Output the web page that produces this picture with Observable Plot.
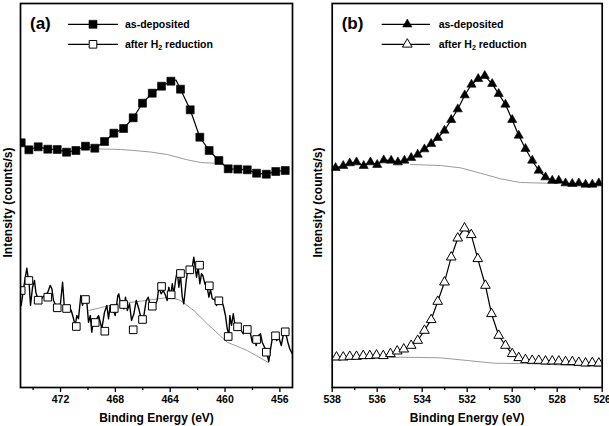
<!DOCTYPE html>
<html><head><meta charset="utf-8">
<script src="https://cdn.jsdelivr.net/npm/d3@7"></script>
<script src="https://cdn.jsdelivr.net/npm/@observablehq/plot@0.6"></script>
<style>
body{margin:0;background:#fff;}
#wrap{position:relative;width:609px;height:426px;overflow:hidden;}
#wrap svg{position:absolute;top:0;}
</style></head><body><div id="wrap"></div>
<script>
const FONT = "'Liberation Sans', Arial, Helvetica, sans-serif";
const xTitle = "Binding Energy (eV)";
const yTitle = "Intensity (counts/s)";
const seriesNames = ["as-deposited", "after H2 reduction"];

// ---------- Panel (a): binding energy (eV), intensity (a.u.) ----------
const aTicksMajor = [472, 468, 464, 460, 456];
const aTicksMinor = [474, 470, 466, 462, 458];
const aDepMarkers = [[474.87,244.7],[474.31,237.7],[473.63,240.7],[472.93,238.3],[472.24,238],[471.56,235.3],[470.88,237],[470.18,241.3],[469.50,239.3],[468.79,246],[468.11,254.3],[467.40,259],[466.70,269.7],[466.02,284.3],[465.31,294.3],[464.63,301.3],[463.95,306.3],[463.25,298.3],[462.54,277.7],[461.84,250.3],[461.16,237],[460.45,227],[459.77,218.7],[459.07,218.3],[458.38,217.7],[457.70,214.3],[456.99,213.3],[456.30,216],[455.61,217]];
const aDepLineExtra = [[463.58,307.5]];
const aDepBg = [[469.50,238.7],[467.62,238],[466.65,237],[465.44,235.5],[464.22,233],[462.76,227.7],[461.79,225],[460.82,224.3]];
const aH2Markers = [[474.87,97],[474.31,107],[473.63,87.3],[472.93,90.3],[472.24,79.7],[471.56,79],[470.85,61],[470.18,88],[469.47,65],[468.77,56.3],[468.08,79],[467.40,83],[466.70,57.7],[466.02,68],[465.31,81.3],[464.63,101],[463.93,92.7],[463.25,114],[462.57,117.7],[461.86,122.3],[461.15,101.7],[460.45,86.7],[459.77,51],[459.09,60.7],[458.38,58],[457.70,48],[456.99,35.3],[456.32,51.7],[455.61,55.7]];
const aH2Line = [[474.87,82],[474.70,98.7],[474.46,119.3],[474.28,102],[474.19,82],[474.04,100.3],[473.90,107],[473.80,95.3],[473.66,88.7],[473.48,87],[473.31,90.3],[473.12,92],[472.93,95.3],[472.75,102],[472.63,98.7],[472.51,87],[472.34,82],[472.20,78.7],[472.02,82],[471.85,105.3],[471.73,82],[471.61,78.7],[471.42,82],[471.22,77],[471.05,68.7],[470.93,62],[470.81,72],[470.69,68.7],[470.52,92],[470.40,82],[470.25,88.7],[470.08,85.3],[469.96,65.3],[469.83,72],[469.72,55.3],[469.59,68.7],[469.43,67],[469.23,72],[469.10,65.3],[468.99,58.7],[468.79,75.3],[468.62,82],[468.50,68.7],[468.38,82],[468.21,78.7],[468.01,72],[467.82,92],[467.75,93.7],[467.62,83.7],[467.50,87],[467.38,78.7],[467.26,90.3],[467.13,77],[466.97,83.7],[466.82,67],[466.65,73.7],[466.48,87],[466.29,78.7],[466.09,67],[465.92,72],[465.75,87],[465.60,90.3],[465.44,80.3],[465.27,83.7],[465.12,82],[464.95,87],[464.83,100.3],[464.66,93.7],[464.51,97],[464.34,92],[464.22,87],[464.10,100.3],[463.98,90.3],[463.85,103.7],[463.74,93.7],[463.61,107],[463.49,117],[463.37,100.3],[463.25,112],[463.12,90.3],[463.01,83.7],[462.83,107],[462.69,120.3],[462.52,117],[462.39,120.3],[462.28,130.3],[462.15,117],[462.08,110.3],[461.96,120.3],[461.84,103.7],[461.72,113.7],[461.62,112],[461.47,103.7],[461.30,100.3],[461.18,90.3],[461.06,97.8],[460.93,88.7],[460.75,88],[460.62,82],[460.45,88.7],[460.28,87],[460.13,82],[459.97,72],[459.84,58.7],[459.72,52],[459.65,72],[459.53,62],[459.40,73.7],[459.31,65.3],[459.16,62],[459.00,60.3],[458.82,57],[458.67,53.7],[458.51,60.3],[458.34,57],[458.14,53.7],[458.02,45.3],[457.90,50.3],[457.73,42],[457.58,52],[457.41,53.7],[457.29,45.3],[457.12,40.3],[456.97,35.3],[456.81,26],[456.68,38.7],[456.56,48.7],[456.39,52],[456.24,47],[456.08,50.3],[455.90,42],[455.76,52],[455.59,55.3],[455.42,45.3],[455.28,38.7],[455.10,33.7]];
const aH2Bg = [[469.94,77],[468.11,83],[466.16,86.3],[463.98,90.3],[463.25,87],[462.28,77],[461.30,63.7],[459.84,45.3],[458.38,37],[456.81,24.7]];

// ---------- Panel (b) ----------
const bTicksMajor = [538, 536, 534, 532, 530, 528, 526];
const bTicksMinor = [537, 535, 533, 531, 529, 527];
const bDepMarkers = [[537.85,219.7],[537.51,221.7],[537.22,224.3],[536.92,225.3],[536.60,221.7],[536.30,225.3],[536.00,222.7],[535.71,227.3],[535.38,227],[535.08,225.3],[534.79,227],[534.49,229.7],[534.20,233],[533.90,238.3],[533.60,243.7],[533.31,249.7],[533.01,257],[532.71,267.7],[532.42,278.3],[532.11,292.3],[531.81,303],[531.51,308.7],[531.22,311.7],[530.89,303.7],[530.60,293.7],[530.30,283],[530.00,267.7],[529.71,252],[529.41,238.7],[529.11,227],[528.82,217],[528.52,210.3],[528.22,207],[527.93,207],[527.63,204.3],[527.33,203.7],[527.04,204.3],[526.74,203],[526.44,203],[526.15,204.3]];
const bDepBg = [[534.52,223],[533.19,222],[532.30,219.7],[531.41,214.3],[530.52,208.7],[529.63,205],[527.93,204]];
const bH2Markers = [[537.81,30.3],[537.51,30.3],[537.22,31],[536.92,31],[536.62,31.7],[536.33,31.7],[536.03,32.3],[535.73,31.7],[535.41,33.7],[535.11,36.3],[534.82,38.3],[534.49,42],[534.20,47],[533.90,57],[533.60,67.7],[533.31,86],[533.01,105.3],[532.71,130.3],[532.42,149.3],[532.12,159.3],[531.82,152.7],[531.53,128.7],[531.19,102],[530.92,73.7],[530.60,52],[530.30,42],[530.00,33.7],[529.71,29.7],[529.41,27.7],[529.11,27],[528.82,27],[528.52,26.3],[528.22,26.3],[527.93,26.3],[527.63,25.7],[527.33,25.7],[527.04,25],[526.74,24.3],[526.44,24.7],[526.15,24.3]];
const bH2Bg = [[537.93,27.7],[534.96,30.3],[533.19,29.7],[532.00,27],[530.82,24.3],[529.04,23.7],[526.08,21]];

const X = d => d[0], Y = d => d[1];
const byE = (a, b) => b[0] - a[0];

function makePanel(cfg) {
  const svg = Plot.plot({
    width: cfg.width, height: 426,
    marginLeft: cfg.ml, marginRight: cfg.mr, marginTop: 3, marginBottom: 39,
    x: {domain: cfg.domain},
    y: {domain: [0, 384], axis: null},
    style: {fontFamily: FONT, fontWeight: "bold", fontSize: "10.5px", color: "black", background: "white"},
    marks: [
      Plot.line(cfg.bg1, {x: X, y: Y, stroke: "#9a9a9a", strokeWidth: 1, clip: true}),
      Plot.line(cfg.bg2, {x: X, y: Y, stroke: "#9a9a9a", strokeWidth: 1, clip: true}),
      Plot.line(cfg.line1, {x: X, y: Y, stroke: "black", strokeWidth: 1.2, clip: true}),
      Plot.line(cfg.line2, {x: X, y: Y, stroke: "black", strokeWidth: cfg.line2w, clip: true}),
      Plot.dot(cfg.m1, {x: X, y: Y, symbol: cfg.symbol, r: cfg.r1, fill: "black", stroke: "black", strokeWidth: 0.6, clip: true}),
      Plot.dot(cfg.m2, {x: X, y: Y, symbol: cfg.symbol, r: cfg.r2, fill: "white", stroke: "black", strokeWidth: 1, clip: true}),
      Plot.axisX(cfg.minor, {tickSize: 3, tickFormat: () => "", label: null, strokeWidth: 1.3}),
      Plot.axisX(cfg.major, {tickSize: 5, tickPadding: 3, label: null, strokeWidth: 1.3}),
      Plot.frame({stroke: "black", strokeWidth: 1.7}),
      Plot.text([xTitle], {frameAnchor: "bottom", dy: 31, fontSize: 12, text: d => d, textAnchor: "middle", lineAnchor: "middle"}),
      Plot.text([yTitle], {frameAnchor: "left", dx: cfg.ydx, dy: 7, rotate: -90, fontSize: 12, text: d => d, textAnchor: "middle", lineAnchor: "middle"})
    ]
  });
  svg.style.left = cfg.left + "px";
  // legend and panel label
  const g = d3.select(svg).append("g").attr("font-family", FONT).attr("font-weight", "bold").attr("text-anchor", "start");
  g.append("text").attr("x", cfg.lab.x).attr("y", 23).attr("dominant-baseline", "central")
    .attr("font-size", 17).text(cfg.lab.text);
  const symType = cfg.symbol === "square" ? d3.symbolSquare : d3.symbolTriangle;
  seriesNames.forEach((name, i) => {
    const y = 24.3 + i * 20;
    g.append("line").attr("x1", cfg.lab.l1).attr("x2", cfg.lab.l2).attr("y1", y).attr("y2", y)
      .attr("stroke", "black").attr("stroke-width", 1.2);
    const r = i === 0 ? cfg.r1 : cfg.r2;
    g.append("path").attr("d", d3.symbol(symType, Math.PI * r * r)())
      .attr("transform", `translate(${cfg.lab.m},${y})`)
      .attr("fill", i === 0 ? "black" : "white").attr("stroke", "black").attr("stroke-width", i === 0 ? 0.6 : 1);
    const t = g.append("text").attr("x", cfg.lab.t).attr("y", y).attr("dominant-baseline", "central").attr("font-size", 10.5);
    if (name.includes("H2")) {
      const [pre, post] = name.split("H2");
      t.append("tspan").text(pre + "H");
      t.append("tspan").attr("font-size", 7).attr("dy", 3).text("2");
      t.append("tspan").attr("dy", -3).text(post);
    } else t.text(name);
  });
  document.getElementById("wrap").appendChild(svg);
}

makePanel({
  left: 0, width: 300, ml: 20, mr: 8, domain: [474.92, 455.08],
  major: aTicksMajor, minor: aTicksMinor,
  bg1: aDepBg, bg2: aH2Bg,
  line1: aDepMarkers.concat(aDepLineExtra).sort(byE), line2: aH2Line, line2w: 1.4,
  m1: aDepMarkers, m2: aH2Markers, symbol: "square", r1: 4.5, r2: 4.3,
  ydx: -12,
  lab: {text: "(a)", x: 30, l1: 68, l2: 118, m: 93, t: 125}
});
makePanel({
  left: 300, width: 309, ml: 31.7, mr: 7.3, domain: [538, 526],
  major: bTicksMajor, minor: bTicksMinor,
  bg1: bDepBg, bg2: bH2Bg,
  line1: bDepMarkers, line2: bH2Markers, line2w: 1.2,
  m1: bDepMarkers, m2: bH2Markers, symbol: "triangle", r1: 3.4, r2: 3.6,
  ydx: -13.7,
  lab: {text: "(b)", x: 41.7, l1: 81.7, l2: 130, m: 107.3, t: 138.7}
});
</script></body></html>
